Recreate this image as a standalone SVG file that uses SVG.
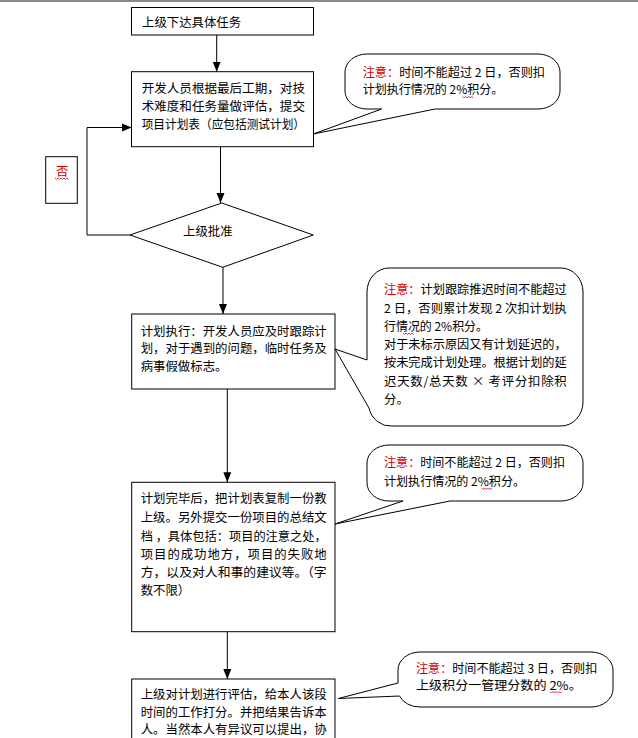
<svg xmlns="http://www.w3.org/2000/svg" width="638" height="738" viewBox="0 0 638 738">
<style>
.box{fill:#fff;stroke:#000;stroke-width:1}
.call{fill:#fff;stroke:#000;stroke-width:1}
.t{font-family:"Noto Sans CJK SC","Noto Sans CJK JP",sans-serif;font-size:12.4px;fill:#000}
.r{fill:#d40000}
.ln{fill:none;stroke:#000;stroke-width:1}
.sq{fill:none;stroke:#d40000;stroke-width:0.8}
</style>
<defs>
<marker id="ah" markerWidth="10" markerHeight="10" viewBox="0 0 10 10" refX="10" refY="5" orient="auto" markerUnits="userSpaceOnUse">
<path d="M0,1 L10,5 L0,9 Z" fill="#000"/>
</marker>
</defs>
<rect x="0" y="0" width="638" height="738" fill="#fff"/>
<rect x="0" y="0" width="638" height="2" fill="#8a8a8a"/>

<g id="connectors">
<line class="ln" x1="216.7" y1="35" x2="216.7" y2="71.7" marker-end="url(#ah)"/>
<line class="ln" x1="220.5" y1="146.7" x2="220.5" y2="203" marker-end="url(#ah)"/>
<line class="ln" x1="223" y1="267" x2="223" y2="314" marker-end="url(#ah)"/>
<line class="ln" x1="227.3" y1="389" x2="227.3" y2="482.3" marker-end="url(#ah)"/>
<line class="ln" x1="227.3" y1="631.7" x2="227.3" y2="679" marker-end="url(#ah)"/>
<polyline class="ln" points="130,235 87,235 87,127.5 131.7,127.5" marker-end="url(#ah)"/>
</g>

<g id="n1">
<rect class="box" x="131.5" y="7.5" width="182" height="27.5"/>
<text class="t" x="142" y="26.5">上级下达具体任务</text>
</g>

<g id="n2">
<rect class="box" x="131.5" y="71.7" width="182" height="75"/>
<text class="t" x="141.7" y="93" textLength="163.3" lengthAdjust="spacingAndGlyphs">开发人员根据最后工期，对技</text>
<text class="t" x="141.7" y="110.5" textLength="163.3" lengthAdjust="spacingAndGlyphs">术难度和任务量做评估，提交</text>
<text class="t" x="141.7" y="128.5" textLength="163.3" lengthAdjust="spacingAndGlyphs">项目计划表（应包括测试计划）</text>
</g>

<g id="n-no">
<rect class="box" x="45.7" y="156.7" width="31.6" height="46.6"/>
<text class="t r" x="56" y="176">否</text>
<polyline class="sq" points="55,178 56.5,179.5 58,178 59.5,179.5 61,178 62.5,179.5 64,178 65.5,179.5 67,178 68.5,179.5"/>
</g>

<g id="n3">
<polygon class="box" points="221.7,203 313.3,235 222.7,267.3 130,235"/>
<text class="t" x="183" y="236">上级批准</text>
</g>

<g id="n4">
<rect class="box" x="131.7" y="314" width="203.3" height="75"/>
<text class="t" x="140.7" y="335.5" textLength="186" lengthAdjust="spacingAndGlyphs">计划执行：开发人员应及时跟踪计</text>
<text class="t" x="140.7" y="353" textLength="186" lengthAdjust="spacingAndGlyphs">划，对于遇到的问题，临时任务及</text>
<text class="t" x="140.7" y="371">病事假做标志。</text>
</g>

<g id="n5">
<rect class="box" x="131.7" y="482.3" width="203.3" height="149.4"/>
<text class="t" x="140.7" y="503" textLength="186" lengthAdjust="spacingAndGlyphs">计划完毕后，把计划表复制一份教</text>
<text class="t" x="140.7" y="522" textLength="186" lengthAdjust="spacingAndGlyphs">上级。另外提交一份项目的总结文</text>
<text class="t" x="140.7" y="540.5" textLength="186" lengthAdjust="spacingAndGlyphs">档 ，具体包括：项目的注意之处，</text>
<text class="t" x="140.7" y="559" textLength="186" lengthAdjust="spacing">项目的成功地方，项目的失败地</text>
<text class="t" x="140.7" y="577" textLength="186" lengthAdjust="spacingAndGlyphs">方，以及对人和事的建议等。（字</text>
<text class="t" x="140.7" y="594.5">数不限）</text>
</g>

<g id="n6">
<rect class="box" x="131.7" y="679" width="203.3" height="70"/>
<text class="t" x="140.7" y="699" textLength="186" lengthAdjust="spacingAndGlyphs">上级对计划进行评估，给本人该段</text>
<text class="t" x="140.7" y="716.5" textLength="186" lengthAdjust="spacingAndGlyphs">时间的工作打分。并把结果告诉本</text>
<text class="t" x="140.7" y="734" textLength="186" lengthAdjust="spacingAndGlyphs">人。当然本人有异议可以提出，协</text>
</g>

<g id="c1">
<path class="call" d="M367,54 H538 A22 18 0 0 1 560,72 V91 A22 18 0 0 1 538,109 H435 L313.3,134 L381.7,109 H367 A22 18 0 0 1 345,91 V72 A22 18 0 0 1 367,54 Z"/>
<text class="t" x="362.7" y="76.5" textLength="182.3" lengthAdjust="spacingAndGlyphs"><tspan class="r">注意：</tspan>时间不能超过 2 日，否则扣</text>
<text class="t" x="362.7" y="94" textLength="140.6" lengthAdjust="spacingAndGlyphs">计划执行情况的 2%积分。</text>
<polyline class="sq" points="462.7,96.5 464.2,98 465.7,96.5 467.2,98 468.7,96.5 470.2,98 471.7,96.5 473.2,98"/>
</g>

<g id="c2">
<path class="call" d="M389,268 H561 A22 24 0 0 1 583,292 V402 A22 24 0 0 1 561,426 H392 A22 24 0 0 1 369,408 L335,349 L367,360 V292 A22 24 0 0 1 389,268 Z"/>
<text class="t" x="384" y="294" textLength="182.7" lengthAdjust="spacingAndGlyphs"><tspan class="r">注意：</tspan>计划跟踪推迟时间不能超过</text>
<text class="t" x="384" y="312.5" textLength="182.7" lengthAdjust="spacingAndGlyphs">2 日，否则累计发现 2 次扣计划执</text>
<text class="t" x="384" y="330.5" textLength="104" lengthAdjust="spacingAndGlyphs">行情况的 2%积分。</text>
<text class="t" x="384" y="349" textLength="182.7" lengthAdjust="spacingAndGlyphs">对于未标示原因又有计划延迟的，</text>
<text class="t" x="384" y="367" textLength="182.7" lengthAdjust="spacingAndGlyphs">按未完成计划处理。根据计划的延</text>
<text class="t" x="384" y="385.5" textLength="182.7" lengthAdjust="spacing">迟天数/总天数 × 考评分扣除积</text>
<text class="t" x="384" y="404">分。</text>
<polyline class="sq" points="403,333 404.5,334.5 406,333 407.5,334.5 409,333 410.5,334.5 412,333 413.5,334.5"/>
</g>

<g id="c3">
<path class="call" d="M389,445 H561 A22 18 0 0 1 583,463 V483 A22 18 0 0 1 561,501 H450 L335,524 L403,501 H389 A22 18 0 0 1 367,483 V463 A22 18 0 0 1 389,445 Z"/>
<text class="t" x="384" y="467" textLength="181" lengthAdjust="spacingAndGlyphs"><tspan class="r">注意：</tspan>时间不能超过 2 日，否则扣</text>
<text class="t" x="384" y="485.5" textLength="141" lengthAdjust="spacingAndGlyphs">计划执行情况的 2%积分。</text>
<polyline class="sq" points="481.7,488 483.2,489.5 484.7,488 486.2,489.5 487.7,488 489.2,489.5 490.7,488 492.2,489.5"/>
</g>

<g id="c4">
<path class="call" d="M420,652 H591 A22 18 0 0 1 613,670 V689 A22 18 0 0 1 591,707 H420 A22 18 0 0 1 399.5,696 L338.3,698.5 L398,683 V670 A22 18 0 0 1 420,652 Z"/>
<text class="t" x="416" y="672.5" textLength="181.3" lengthAdjust="spacingAndGlyphs"><tspan class="r">注意：</tspan>时间不能超过 3 日，否则扣</text>
<text class="t" x="416" y="689.5" textLength="165.7" lengthAdjust="spacingAndGlyphs">上级积分一管理分数的 2%。</text>
<polyline class="sq" points="550,691.5 551.5,693 553,691.5 554.5,693 556,691.5 557.5,693 559,691.5 560.5,693 562,691.5"/>
</g>
</svg>
